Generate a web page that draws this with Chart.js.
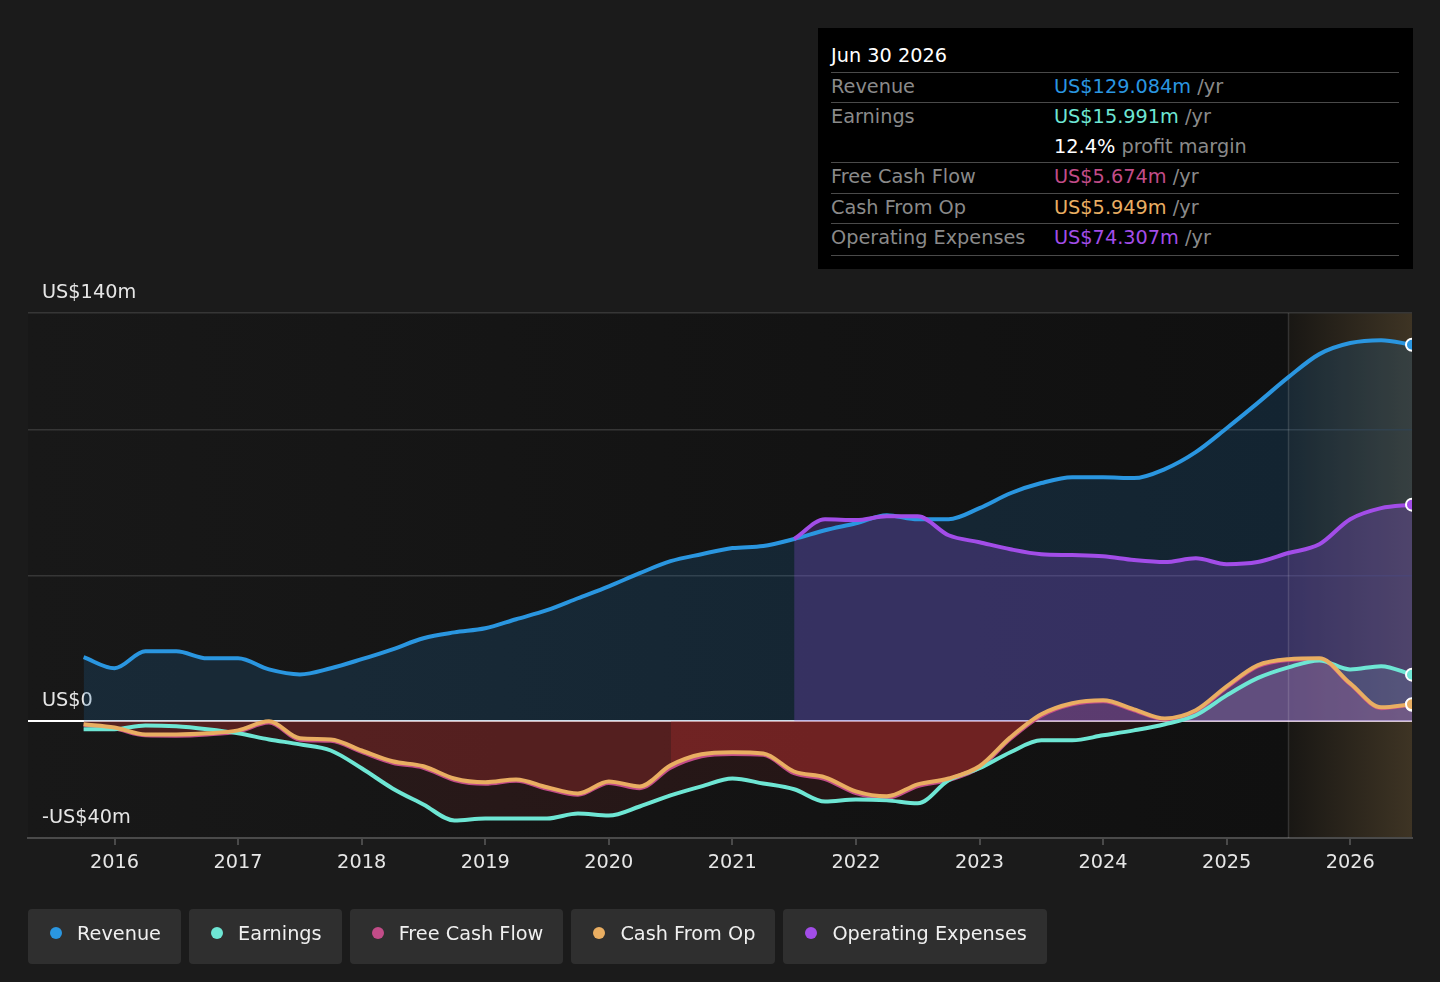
<!DOCTYPE html>
<html>
<head>
<meta charset="utf-8">
<script src="https://cdn.jsdelivr.net/npm/chart.js@4.4.1/dist/chart.umd.min.js"></script>
<style>
    body { margin: 0; background: #1b1b1b; width: 1440px; height: 982px; overflow: hidden; font-family: "DejaVu Sans", sans-serif; }
    #wrap { position: absolute; left: 0; top: 0; width: 1440px; height: 982px; }
    #tip { position: absolute; left: 818px; top: 28px; width: 595px; height: 241px; background: #000; font-size: 19.3px; }
    #tip div { position: absolute; line-height: 24px; white-space: nowrap; }
    #tip .sep { height: 0; border-top: 1.5px solid #4a4a4a; left: 13px; width: 568px; }
    #tip .lab { left: 13px; color: #8a8a8a; }
    #tip .val { left: 236px; color: #8a8a8a; }
    #legend { position: absolute; left: 28px; top: 909px; display: flex; gap: 8px; }
    .item { height: 55px; box-sizing: border-box; padding: 0 20px 7px 22px; background: #2f2f2f; border-radius: 4px;
            display: flex; align-items: center; color: #f0f0f0; font-size: 19.3px; }
    .dot { width: 12px; height: 12px; border-radius: 50%; margin-right: 15px; }
</style>
</head>
<body>
<div id="wrap"><canvas id="lineChart"></canvas></div>

<div id="tip">
    <div style="left:13px;top:16px;color:#fff">Jun 30 2026</div>
    <div class="sep" style="top:44px"></div>
    <div class="lab" style="top:47px">Revenue</div>
    <div class="val" style="top:47px"><span style="color:#2a96e0">US$129.084m</span> /yr</div>
    <div class="sep" style="top:74px"></div>
    <div class="lab" style="top:77px">Earnings</div>
    <div class="val" style="top:77px"><span style="color:#6ee6d4">US$15.991m</span> /yr</div>
    <div class="val" style="top:107px"><span style="color:#fff">12.4%</span> profit margin</div>
    <div class="sep" style="top:134px"></div>
    <div class="lab" style="top:137px">Free Cash Flow</div>
    <div class="val" style="top:137px"><span style="color:#c24c88">US$5.674m</span> /yr</div>
    <div class="sep" style="top:165px"></div>
    <div class="lab" style="top:168px">Cash From Op</div>
    <div class="val" style="top:168px"><span style="color:#e9ae62">US$5.949m</span> /yr</div>
    <div class="sep" style="top:195px"></div>
    <div class="lab" style="top:198px">Operating Expenses</div>
    <div class="val" style="top:198px"><span style="color:#a24de8">US$74.307m</span> /yr</div>
    <div class="sep" style="top:227px"></div>
</div>

<div id="legend">
    <div class="item"><span class="dot" style="background:#2a96e0"></span>Revenue</div>
    <div class="item"><span class="dot" style="background:#6ee6d4"></span>Earnings</div>
    <div class="item"><span class="dot" style="background:#c24c88"></span>Free Cash Flow</div>
    <div class="item"><span class="dot" style="background:#e9ae62"></span>Cash From Op</div>
    <div class="item"><span class="dot" style="background:#a24de8"></span>Operating Expenses</div>
</div>

<script>
// quarter ends as decimal years
const periods = [
    2015.75, 2016, 2016.25, 2016.5, 2016.75, 2017, 2017.25, 2017.5, 2017.75, 2018,
    2018.25, 2018.5, 2018.75, 2019, 2019.25, 2019.5, 2019.75, 2020, 2020.25, 2020.5,
    2020.75, 2021, 2021.25, 2021.5, 2021.75, 2022, 2022.25, 2022.5, 2022.75, 2023,
    2023.25, 2023.5, 2023.75, 2024, 2024.25, 2024.5, 2024.75, 2025, 2025.25, 2025.5,
    2025.75, 2026, 2026.25, 2026.5
];
const tickYears = [2016, 2017, 2018, 2019, 2020, 2021, 2022, 2023, 2024, 2025, 2026];
const gridValues = [-40, 0, 50, 100, 140];
const yLabels = { '140': 'US$140m', '0': 'US$0', '-40': '-US$40m' };
const forecastStart = 2025.5;
const highlightStart = 2020.5;

// US$m
const revenue = [
    22.0, 18.2, 24.0, 24.0, 21.6, 21.6, 17.8, 16.1, 18.2, 21.3,
    24.7, 28.5, 30.5, 31.9, 35.0, 38.1, 42.2, 46.3, 50.8, 54.9,
    57.3, 59.4, 60.1, 62.5, 65.5, 67.9, 70.7, 69.3, 69.3, 73.1,
    78.2, 81.7, 83.7, 83.7, 83.4, 86.5, 92.3, 100.5, 109.1, 118.0,
    125.9, 129.7, 130.7, 129.1
];
const earnings = [
    -2.7, -2.7, -1.4, -1.7, -2.7, -4.1, -6.2, -7.9, -10.0, -16.1,
    -23.0, -28.5, -34.0, -33.3, -33.3, -33.3, -31.6, -32.3, -29.2, -25.4,
    -22.3, -19.6, -21.3, -23.3, -27.5, -26.8, -27.1, -28.1, -20.2, -16.1,
    -10.6, -6.5, -6.5, -4.8, -3.1, -1.0, 2.1, 8.9, 14.8, 18.5,
    20.9, 17.8, 18.9, 16.0
];
const freeCashFlow = [
    -1.2, -2.4, -4.8, -4.9, -4.5, -3.5, -0.4, -6.3, -6.7, -10.5,
    -14.2, -15.9, -20.1, -21.4, -20.4, -23.1, -25.2, -21.1, -22.9, -15.9,
    -12.0, -11.2, -11.5, -17.8, -19.8, -24.6, -26.3, -22.2, -20.1, -15.9,
    -6.0, 1.9, 5.8, 6.9, 3.8, 0.7, 3.4, 11.6, 18.8, 21.0,
    21.3, 12.7, 4.5, 5.7
];
const cashFromOp = [
    -1.0, -2.1, -4.5, -4.5, -4.1, -3.1, 0.0, -5.8, -6.2, -10.0,
    -13.7, -15.4, -19.6, -20.9, -19.9, -22.6, -24.7, -20.6, -22.3, -15.1,
    -11.3, -10.6, -11.0, -17.2, -19.2, -24.0, -25.7, -21.6, -19.6, -15.4,
    -5.5, 2.4, 6.2, 7.2, 4.1, 1.0, 3.8, 12.0, 19.2, 21.3,
    21.6, 13.0, 4.8, 5.9
];
const operatingExpenses = [
    null, null, null, null, null, null, null, null, null, null,
    null, null, null, null, null, null, null, null, null, null,
    null, null, null, 62.5, 69.3, 69.0, 70.3, 70.3, 63.8, 61.4,
    59.0, 57.3, 57.0, 56.6, 55.3, 54.6, 55.9, 53.9, 54.6, 57.7,
    60.7, 69.3, 73.1, 74.3
];

const toPoints = (values, from) => values
    .map((v, i) => ({ x: periods[i], y: v }))
    .filter(p => p.y !== null && (from === undefined || p.x >= from));

const lastIdx = arr => arr.length - 1;

function lineSet(label, values, color, fill, order) {
    const data = toPoints(values);
    return {
        label: label,
        data: data,
        borderColor: color,
        borderWidth: 4,
        fill: fill,
        cubicInterpolationMode: 'monotone',
        pointRadius: ctx => ctx.dataIndex === lastIdx(data) ? 6 : 0,
        pointBackgroundColor: color,
        pointBorderColor: '#ffffff',
        pointBorderWidth: 2,
        pointHoverRadius: 0,
        order: order
    };
}

const plotBg = {
    id: 'plotBg',
    beforeDraw(chart) {
        const { ctx, chartArea: a, scales: { x } } = chart;
        const fx = x.getPixelForValue(forecastStart);
        ctx.save();
        const g = ctx.createLinearGradient(a.left, 0, fx, 0);
        g.addColorStop(0, '#181818');
        g.addColorStop(1, '#101010');
        ctx.fillStyle = g;
        ctx.fillRect(a.left, a.top, fx - a.left, a.bottom - a.top);
        const g2 = ctx.createLinearGradient(fx, 0, a.right, 0);
        g2.addColorStop(0, '#191714');
        g2.addColorStop(1, '#3e3424');
        ctx.fillStyle = g2;
        ctx.fillRect(fx, a.top, a.right - fx, a.bottom - a.top);
        ctx.restore();
    },
    beforeDatasetsDraw(chart) {
        const { ctx, chartArea: a, scales: { x } } = chart;
        const fx = Math.round(x.getPixelForValue(forecastStart)) + 0.5;
        ctx.save();
        ctx.strokeStyle = 'rgba(255,255,255,0.13)';
        ctx.lineWidth = 1.5;
        ctx.beginPath();
        ctx.moveTo(fx, a.top);
        ctx.lineTo(fx, a.bottom);
        ctx.stroke();
        ctx.restore();
    }
};

Chart.defaults.font.family = '"DejaVu Sans", sans-serif';

const ctx = document.getElementById('lineChart').getContext('2d');
new Chart(ctx, {
    type: 'line',
    data: {
        datasets: [
            lineSet('Operating Expenses', operatingExpenses, '#a24de8',
                { target: 'origin', above: 'rgba(140,80,220,0.28)', below: 'rgba(140,80,220,0.28)' }, 1),
            lineSet('Cash From Op', cashFromOp, '#e9ae62', false, 2),
            lineSet('Earnings', earnings, '#6ee6d4',
                { target: 'origin', above: 'rgba(120,200,190,0.18)', below: 'rgba(120,40,40,0.18)' }, 3),
            lineSet('Free Cash Flow', freeCashFlow, '#c24c88',
                { target: 'origin', above: 'rgba(200,90,120,0.3)', below: 'rgba(160,45,45,0.4)' }, 4),
            lineSet('Revenue', revenue, '#2a96e0',
                { target: 'origin', above: 'rgba(30,110,170,0.22)', below: 'rgba(30,110,170,0.22)' }, 5),
            {
                label: 'fcf-recent',
                data: toPoints(freeCashFlow, highlightStart),
                borderWidth: 0,
                borderColor: 'rgba(0,0,0,0)',
                pointRadius: 0,
                cubicInterpolationMode: 'monotone',
                fill: { target: 'origin', above: 'rgba(0,0,0,0)', below: 'rgba(170,45,45,0.38)' },
                order: 6
            }
        ]
    },
    options: {
        responsive: true,
        maintainAspectRatio: false,
        animation: false,
        events: [],
        layout: { padding: { left: 28, right: 28, top: 313, bottom: 104 } },
        plugins: {
            legend: { display: false },
            tooltip: { enabled: false },
            filler: { drawTime: 'beforeDatasetsDraw' }
        },
        scales: {
            x: {
                type: 'linear',
                min: 2015.3,
                max: 2026.5,
                afterBuildTicks: s => { s.ticks = tickYears.map(v => ({ value: v })); },
                afterFit: s => { s.height = 40; },
                ticks: {
                    color: '#e6e6e6',
                    font: { size: 19.3 },
                    padding: 6,
                    maxRotation: 0,
                    autoSkip: false,
                    callback: v => String(v)
                },
                grid: { drawOnChartArea: false, drawTicks: true, tickLength: 7, color: '#4a4a4a', lineWidth: 2 },
                border: { display: true, color: '#4a4a4a', width: 2 }
            },
            y: {
                min: -40,
                max: 140,
                afterBuildTicks: s => { s.ticks = gridValues.map(v => ({ value: v })); },
                afterFit: s => { s.width = 0; },
                ticks: {
                    mirror: true,
                    padding: 14,
                    labelOffset: -20,
                    color: '#e6e6e6',
                    font: { size: 19.3 },
                    callback: v => yLabels[String(v)] || ''
                },
                grid: {
                    drawTicks: false,
                    color: c => c.tick.value === 0 ? '#ffffff' : (c.tick.value === -40 ? '#4a4a4a' : '#363636'),
                    lineWidth: c => c.tick.value === 0 ? 2 : 1.5
                },
                border: { display: false }
            }
        }
    },
    plugins: [plotBg]
});
</script>
</body>
</html>
